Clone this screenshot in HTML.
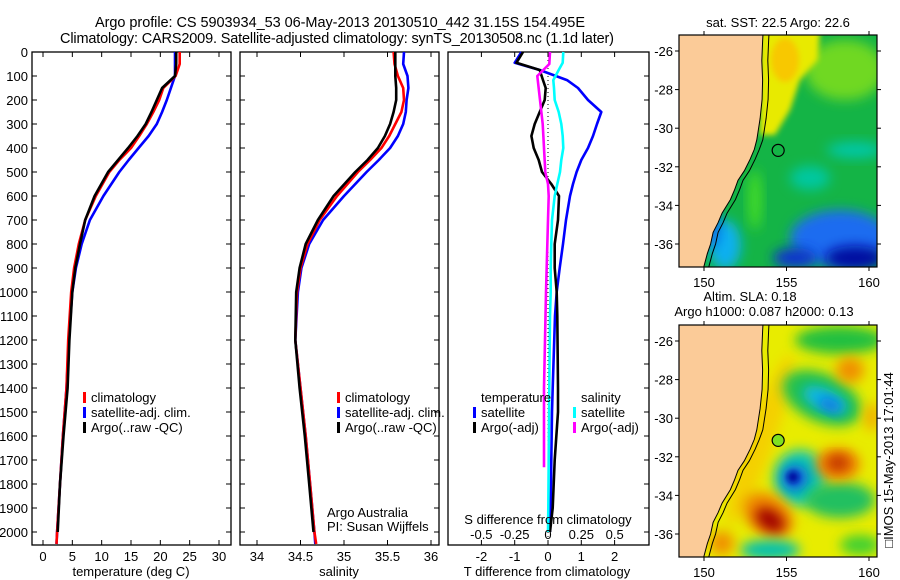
<!DOCTYPE html>
<html><head><meta charset="utf-8"><style>
html,body{margin:0;padding:0;background:#fff;}
svg{display:block;font-family:"Liberation Sans",Arial,sans-serif;}
</style></head><body>
<svg id="fig" width="900" height="580" viewBox="0 0 900 580" xmlns="http://www.w3.org/2000/svg">
<defs>
<filter id="blur6" x="-50%" y="-50%" width="200%" height="200%"><feGaussianBlur stdDeviation="6"/></filter>
<filter id="blur3" x="-50%" y="-50%" width="200%" height="200%"><feGaussianBlur stdDeviation="3"/></filter>
<clipPath id="clipTop"><rect x="679" y="35" width="198" height="232"/></clipPath>
<clipPath id="clipBot"><rect x="679" y="325" width="198" height="232"/></clipPath>
</defs>
<text x="340" y="27" font-size="14.5" text-anchor="middle" textLength="490">Argo profile: CS 5903934_53 06-May-2013 20130510_442 31.15S 154.495E</text>
<text x="337" y="43" font-size="14.5" text-anchor="middle" textLength="554">Climatology: CARS2009. Satellite-adjusted climatology: synTS_20130508.nc (1.1d later)</text>
<g id="panels"></g>
<g id="maps"></g>
<text transform="translate(893,460) rotate(-90)" font-size="13" text-anchor="middle">□IMOS 15-May-2013 17:01:44</text>
</svg>
<script>
// ---- profile data ----
const depths = [0,50,100,150,200,250,300,350,400,450,500,600,700,800,900,1000,1200,1400,1600,1800,2000,2050];
const tempClim = [23.3,23.3,22.6,20.5,19.8,18.8,17.7,16.4,15.0,13.0,11.3,9.0,7.2,6.1,5.3,4.8,4.3,4.0,3.4,2.9,2.4,2.3];
const tempSat  = [22.5,22.5,22.5,21.8,21.1,20.3,19.4,18.0,16.3,14.6,13.0,10.3,8.0,6.6,5.6,5.0,4.4,4.0,3.4,2.9,2.4,2.3];
const argoDepths = [0,50,100,150,200,250,300,350,400,450,500,600,700,800,900,1000,1200,1400,1600,1800,2000];
const tempArgo = [22.7,22.7,22.5,20.3,19.4,18.5,17.5,16.1,14.5,12.8,11.1,8.8,7.2,6.3,5.5,5.0,4.5,4.2,3.5,2.9,2.5];
const salClim = [35.57,35.58,35.62,35.68,35.69,35.66,35.59,35.52,35.43,35.30,35.16,34.92,34.72,34.58,34.50,34.46,34.44,34.50,34.56,34.61,34.66,34.68];
const salSat  = [35.69,35.68,35.73,35.74,35.72,35.71,35.68,35.62,35.53,35.40,35.26,35.00,34.76,34.60,34.51,34.47,34.44,34.50,34.56,34.61,34.66,34.67];
const salArgo = [35.59,35.59,35.59,35.60,35.60,35.57,35.53,35.47,35.39,35.27,35.13,34.88,34.70,34.56,34.49,34.45,34.44,34.49,34.55,34.60,34.65];
// ---- difference data ----
const diffDepths = [0,45,75,117,150,200,250,300,350,400,450,500,550,600,700,800,900,1000,1100,1400,1500,1700,1900,2000];
const dTempSat  = [-0.8,-1.0,-0.25,0.57,0.9,1.2,1.6,1.47,1.35,1.2,1.0,0.86,0.75,0.66,0.54,0.45,0.35,0.26,0.21,0.14,0.12,0.1,0.08,0.06];
const dTempArgo = [-0.75,-0.95,-0.25,-0.15,-0.07,-0.1,-0.25,-0.4,-0.5,-0.43,-0.28,-0.18,0.1,0.33,0.3,0.2,0.2,0.26,0.28,0.3,0.3,0.2,0.14,0.06];
const dSalSat   = [0.115,0.11,0.08,0.04,0.045,0.05,0.08,0.1,0.11,0.115,0.1,0.09,0.07,0.05,0.03,0.025,0.02,0.02,0.015,0.01,0.008,0.005,0.002,0.0];
const dSalArgoDepths = [0,50,100,200,300,400,500,550,600,700,1000,1400,1730];
const dSalArgo  = [0.015,0.01,-0.08,-0.06,-0.04,-0.03,-0.02,0.0,0.005,0.0,-0.015,-0.03,-0.03];
const depthTicks = [0,100,200,300,400,500,600,700,800,900,1000,1100,1200,1300,1400,1500,1600,1700,1800,1900,2000];
const tempTicks = [0,5,10,15,20,25,30];
const salTicks = [34,34.5,35,35.5,36];
const salTickLabels = ["34","34.5","35","35.5","36"];
const dTTicks = [-2,-1,0,1,2];
const dSTicks = [-0.5,-0.25,0,0.25,0.5];
const dSTickLabels = ["-0.5","-0.25","0","0.25","0.5"];

const NS="http://www.w3.org/2000/svg";
function mk(tag, attrs, parent, text){
  const e=document.createElementNS(NS,tag);
  for(const k in attrs) e.setAttribute(k,attrs[k]);
  if(text!==undefined) e.textContent=text;
  parent.appendChild(e); return e;
}
const Y0=52, Y1=545;
const yDepth = d => Y0 + (d-0)*(532-52)/2000;
const xTemp = t => 43 + t*(219-43)/30;
const xSal = s => 257 + (s-34)*(431-257)/2;
const xDT = t => 548 + t*33.3;
const xDS = s => 548 + s*133.3;
const panels=document.getElementById('panels');

function frame(x0,x1,name){
  const g=mk('g',{},panels);
  
  
  const r=mk('rect',{x:x0,y:Y0,width:x1-x0,height:Y1-Y0,fill:'none',stroke:'#000','stroke-width':1.3},g);
  
  
  return g;
}
function depthTickMarks(g,x0,x1){
  depthTicks.forEach(d=>{
    const y=yDepth(d);
    mk('line',{x1:x0,y1:y,x2:x0+5,y2:y,stroke:'#000'},g);
    mk('line',{x1:x1-5,y1:y,x2:x1,y2:y,stroke:'#000'},g);
  });
}
function xTickMarks(g,vals,fx){
  vals.forEach(v=>{
    const x=fx(v);
    mk('line',{x1:x,y1:Y0,x2:x,y2:Y0+5,stroke:'#000'},g);
    mk('line',{x1:x,y1:Y1-5,x2:x,y2:Y1,stroke:'#000'},g);
  });
}
function line(g,xs,ds,fx,color,name,w){
  const pts=xs.map((v,i)=>fx(v).toFixed(1)+','+yDepth(ds[i]).toFixed(1)).join(' ');
  const p=mk('polyline',{points:pts,fill:'none',stroke:color,'stroke-width':w||2.6,'stroke-linejoin':'round'},g);
  
  
}
function legend(g,x,y,items){
  items.forEach((it,i)=>{
    const yy=y+i*15;
    mk('rect',{x:x,y:yy-10,width:3,height:11,fill:it[1]},g);
    const t=mk('text',{x:x+8,y:yy,'font-size':13},g,it[0]);
    
    
  });
}

// Panel 1 temperature
const g1=frame(32,231,'temperature-panel');
depthTickMarks(g1,32,231);
xTickMarks(g1,tempTicks,xTemp);
depthTicks.forEach(d=>{
  const t=mk('text',{x:28,y:yDepth(d)+5,'font-size':13,'text-anchor':'end'},g1,String(d));
  
  
});
tempTicks.forEach(v=>{
  const t=mk('text',{x:xTemp(v),y:561,'font-size':13,'text-anchor':'middle'},g1,String(v));
  
  
});
const xl1=mk('text',{x:131,y:576,'font-size':13,'text-anchor':'middle'},g1,'temperature (deg C)');


line(g1,tempSat,depths,xTemp,'#0000ff','temp-satellite-line');
line(g1,tempClim,depths,xTemp,'#ff0000','temp-climatology-line');
line(g1,tempArgo,argoDepths,xTemp,'#000','temp-argo-line');
legend(g1,83,402,[['climatology','#ff0000','climatology'],['satellite-adj. clim.','#0000ff','satellite'],['Argo(..raw -QC)','#000','argo']]);

// Panel 2 salinity
const g2=frame(240,439,'salinity-panel');
depthTickMarks(g2,240,439);
xTickMarks(g2,salTicks,xSal);
salTicks.forEach((v,i)=>{
  const t=mk('text',{x:xSal(v),y:561,'font-size':13,'text-anchor':'middle'},g2,salTickLabels[i]);
  
  
});
const xl2=mk('text',{x:339,y:576,'font-size':13,'text-anchor':'middle'},g2,'salinity');


line(g2,salSat,depths,xSal,'#0000ff','sal-satellite-line');
line(g2,salClim,depths,xSal,'#ff0000','sal-climatology-line');
line(g2,salArgo,argoDepths,xSal,'#000','sal-argo-line');
legend(g2,337,402,[['climatology','#ff0000','climatology'],['satellite-adj. clim.','#0000ff','satellite'],['Argo(..raw -QC)','#000','argo']]);
const cr1=mk('text',{x:327,y:517,'font-size':13},g2,'Argo Australia');


const cr2=mk('text',{x:327,y:531,'font-size':13},g2,'PI: Susan Wijffels');



// Panel 3 differences
const g3=frame(448,649,'difference-panel');
xTickMarks(g3,dTTicks,xDT);
depthTicks.forEach(d=>{const y=yDepth(d);mk('line',{x1:644,y1:y,x2:649,y2:y,stroke:'#000'},g3);});
mk('line',{x1:xDT(0),y1:Y0,x2:xDT(0),y2:Y1,stroke:'#000','stroke-dasharray':'1,3'},g3);
dTTicks.forEach(v=>{
  const t=mk('text',{x:xDT(v),y:561,'font-size':13,'text-anchor':'middle'},g3,String(v));
  
  
});
const xl3=mk('text',{x:547,y:576,'font-size':13,'text-anchor':'middle'},g3,'T difference from climatology');


line(g3,dTempSat,diffDepths,xDT,'#0000ff','tdiff-satellite-line');
line(g3,dTempArgo,diffDepths,xDT,'#000','tdiff-argo-line');
line(g3,dSalSat,diffDepths,xDS,'#00ffff','sdiff-satellite-line');
line(g3,dSalArgo,dSalArgoDepths,xDS,'#ff00ff','sdiff-argo-line');
const sl=mk('text',{x:548,y:524,'font-size':13,'text-anchor':'middle'},g3,'S difference from climatology');


dSTicks.forEach((v,i)=>{
  const t=mk('text',{x:xDS(v),y:539,'font-size':13,'text-anchor':'middle'},g3,dSTickLabels[i]);
  
  
});
const lt=mk('text',{x:481,y:402,'font-size':13},g3,'temperature');


const ls=mk('text',{x:581,y:402,'font-size':13},g3,'salinity');


legend(g3,473,417,[['satellite','#0000ff','t-satellite'],['Argo(-adj)','#000','t-argo']]);
legend(g3,573,417,[['satellite','#00ffff','s-satellite'],['Argo(-adj)','#ff00ff','s-argo']]);

// ---- maps ----
const lonTicks=[150,155,160];
const latTicks=[-26,-28,-30,-32,-34,-36];
const coastLat=[-25.0,-25.5,-26.5,-27.5,-28.5,-29.5,-30.6,-31.1,-31.6,-32.2,-32.7,-33.2,-33.7,-34.4,-34.9,-35.4,-36.0,-36.5,-37.3];
const coastLon=[153.58,153.55,153.5,153.55,153.52,153.4,153.2,153.05,152.8,152.45,152.06,151.85,151.6,151.1,150.85,150.55,150.4,150.2,149.95];
const maps=document.getElementById('maps');
const xLon = lon => 704 + (lon-150)*(869-704)/10;
function drawMap(y0, name, titles, features, circleFill){
  const yLat = lat => y0+16 + (-26-lat)*(193/10);
  const g=mk('g',{},maps);
  
  
  const cg=mk('g',{'clip-path':'url(#'+(y0<100?'clipTop':'clipBot')+')'},g);
  features(cg,yLat);
  // land
  let pts=coastLat.map((la,i)=>xLon(coastLon[i]).toFixed(1)+','+yLat(la).toFixed(1));
  const land=mk('polygon',{points:'679,'+(y0-10)+' '+pts.join(' ')+' 679,'+(y0+240),fill:'#fbcb98',stroke:'#000','stroke-width':1},cg);
  
  
  const iso=coastLat.map((la,i)=>(xLon(coastLon[i])+4+(la<-31?1:2)).toFixed(1)+','+yLat(la).toFixed(1)).join(' ');
  mk('polyline',{points:iso,fill:'none',stroke:'#000','stroke-width':1},cg);
  const c=mk('circle',{cx:xLon(154.495),cy:yLat(-31.15),r:6,fill:circleFill,stroke:'#000','stroke-width':1.2},g);
  
  
  mk('rect',{x:679,y:y0,width:198,height:232,fill:'none',stroke:'#000','stroke-width':1.2},g);
  lonTicks.forEach(l=>{
    const x=xLon(l);
    mk('line',{x1:x,y1:y0-4,x2:x,y2:y0,stroke:'#000'},g);
    mk('line',{x1:x,y1:y0+232,x2:x,y2:y0+236,stroke:'#000'},g);
    const t=mk('text',{x:x,y:y0+252,'font-size':13,'text-anchor':'middle'},g,String(l));
    
    
  });
  latTicks.forEach(l=>{
    const y=yLat(l);
    mk('line',{x1:675,y1:y,x2:679,y2:y,stroke:'#000'},g);
    mk('line',{x1:877,y1:y,x2:881,y2:y,stroke:'#000'},g);
    const t=mk('text',{x:673,y:y+5,'font-size':13,'text-anchor':'end'},g,String(l));
    
    
  });
  titles.forEach((tt,i)=>{
    const t=mk('text',{x:tt[1],y:tt[2],'font-size':13,'text-anchor':'middle'},g,tt[0]);
    
    
  });
}
function blob(g,cx,cy,rx,ry,fill,rot,f){
  mk('ellipse',{cx:cx,cy:cy,rx:rx,ry:ry,fill:fill,transform:'rotate('+(rot||0)+' '+cx+' '+cy+')',filter:'url(#'+(f||'blur6')+')'},g);
}
drawMap(35,'sst-map',[['sat. SST: 22.5 Argo: 22.6',778,27]],(g)=>{
  mk('rect',{x:670,y:30,width:220,height:245,fill:'#14b446'},g);
  blob(g,845,70,40,30,'#70d820');
  mk('polygon',{points:'760,30 820,30 818,60 800,80 790,110 775,135 760,135',fill:'#e8ea00',filter:'url(#blur3)'},g);
  blob(g,785,60,14,22,'#f8c800','0','blur3');
  blob(g,855,150,28,8,'#00c8a8');
  blob(g,810,178,20,12,'#00c8a0');
  blob(g,840,238,50,28,'#1a6cf0');
  blob(g,855,258,30,12,'#0010a0');
  blob(g,795,258,22,10,'#1030d0');
  blob(g,725,245,16,25,'#10b0f0');
  blob(g,712,228,8,20,'#1070f0');
  blob(g,755,200,6,30,'#48e020');
},'none');
drawMap(325,'sla-map',[['Altim. SLA: 0.18',750,301],['Argo h1000: 0.087 h2000: 0.13',764,316]],(g)=>{
  mk('rect',{x:670,y:320,width:220,height:245,fill:'#e8ec00'},g);
  blob(g,760,440,14,90,'#f4d000','20');
  blob(g,840,340,45,14,'#20c040');
  blob(g,822,398,42,24,'#20c050','25');
  blob(g,825,400,24,11,'#10b8e8','25');
  blob(g,830,405,12,6,'#1070e0','25');
  blob(g,850,370,14,13,'#f09000');
  blob(g,872,417,8,14,'#f0b000');
  blob(g,800,478,26,28,'#10c8b0');
  blob(g,795,478,13,13,'#1060e0');
  blob(g,793,477,6,6,'#0010a0','0','blur3');
  blob(g,840,500,35,18,'#20c060');
  blob(g,838,464,22,16,'#f08000');
  blob(g,838,463,11,8,'#c03000');
  blob(g,768,515,28,20,'#f08800','35');
  blob(g,770,520,16,10,'#a00000','35');
  blob(g,770,550,30,10,'#00c0b0');
  blob(g,722,543,12,12,'#f09000');
  blob(g,860,545,20,10,'#40d030');
},'#80e020');
</script>
</body></html>
